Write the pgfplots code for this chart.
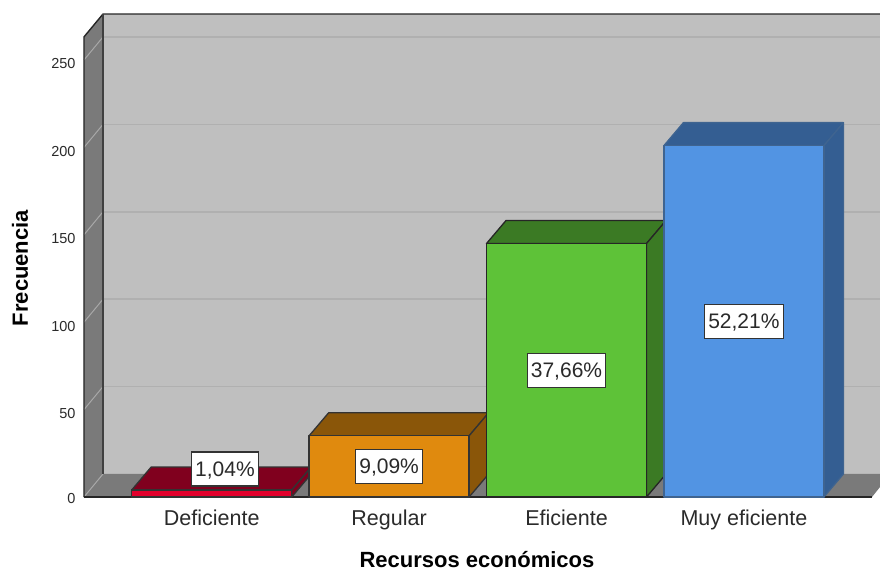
\documentclass[border=0pt]{standalone}
\usepackage{pgfplots}
\pgfplotsset{compat=1.18}
\usepackage{fontspec}
\setmainfont{Liberation Sans}
\definecolor{wallc}{HTML}{BFBFBF}
\definecolor{sidec}{HTML}{7A7A7A}
\definecolor{gridc}{HTML}{B0B0B0}
\definecolor{gridl}{HTML}{A8A8A8}
\definecolor{txt}{HTML}{2A2A2A}
\definecolor{redf}{HTML}{E2002C}
\definecolor{redd}{HTML}{80001E}
\definecolor{orf}{HTML}{E08A0E}
\definecolor{ord}{HTML}{8A5609}
\definecolor{grf}{HTML}{5EC238}
\definecolor{grd}{HTML}{3B7A24}
\definecolor{blf}{HTML}{5294E3}
\definecolor{bld}{HTML}{345E92}
\definecolor{ble}{HTML}{3F6490}
\newcommand{\tdbar}[5]{%
  \pgfmathsetmacro\xl{#1-0.451}%
  \pgfmathsetmacro\xr{#1+0.451}%
  \pgfmathsetmacro\xlb{#1-0.451+0.11}%
  \pgfmathsetmacro\xrb{#1+0.451+0.11}%
  \pgfmathsetmacro\yt{#2+13.16}%
  \pgfmathsetmacro\yb{13.16}%
  \addplot[fill=#4,draw=#5,line width=1.3pt,line join=round,mark=none]
    coordinates {(\xl,#2) (\xlb,\yt) (\xrb,\yt) (\xr,#2)} --cycle;
  \addplot[fill=#4,draw=#5,line width=1.3pt,line join=round,mark=none]
    coordinates {(\xr,0) (\xrb,\yb) (\xrb,\yt) (\xr,#2)} --cycle;
  \addplot[ybar,bar width=0.902,bar shift=0pt,fill=#3,draw=#5,line width=1.3pt,line join=round]
    coordinates {(#1,#2)};
}
\begin{document}
\begin{tikzpicture}[x=1pt,y=1pt]
\useasboundingbox (-84pt,-74pt) rectangle (796pt,497pt);
\begin{axis}[
  scale only axis,width=796pt,height=483pt,
  xmin=-0.7198,xmax=3.7672,ymin=0,ymax=276.3,
  clip=false,
  axis line style={draw=none},
  major tick length=0pt,
  xtick={0,1,2,3},
  xticklabels={Deficiente,Regular,Eficiente,Muy eficiente},
  ytick={50,100,150,200,250},
  extra y ticks={0},
  extra y tick style={yticklabel style={yshift=2.5pt}},
  xticklabel style={font=\fontsize{21.5}{24}\selectfont,text=txt,anchor=center,yshift=-23pt,text height=15pt,text depth=4pt},
  yticklabel style={font=\fontsize{14.5}{16}\selectfont,text=txt,anchor=east,xshift=-5pt,yshift=-4pt},
  /pgf/number format/assume math mode=true,
  every axis x label/.style={at={(axis description cs:0.4937,0)},anchor=center,yshift=-62.5pt,inner sep=0pt,font=\fontsize{22}{24}\selectfont\bfseries},
  every axis y label/.style={at={(axis description cs:-0.0804,0.474)},anchor=center,rotate=90,font=\fontsize{22}{24}\selectfont\bfseries},
  xlabel={Recursos económicos},
  ylabel={Frecuencia},
]
% back wall
\addplot[fill=wallc,draw=none,mark=none] coordinates {(-0.6127,13.16) (-0.6127,276.3) (3.7672,276.3) (3.7672,13.16)} --cycle;
% left wall
\addplot[fill=sidec,draw=none,mark=none] coordinates {(-0.7198,0) (-0.7198,263.2) (-0.6127,276.3) (-0.6127,13.16)} --cycle;
% floor
\addplot[fill=sidec,draw=none,mark=none] coordinates {(-0.7198,0) (-0.6127,13.16) (3.7672,13.16) (3.7672,5.7) (3.7221,0)} --cycle;
% grid back wall
\foreach \v in {50,100,150,200,250}{
  \pgfmathsetmacro\w{\v+13.16}
  \edef\temp{\noexpand\addplot[gridc,line width=1.5pt,mark=none] coordinates {(-0.6127,\w) (3.7672,\w)};
  \noexpand\addplot[gridl,line width=1pt,mark=none] coordinates {(-0.7198,\v) (-0.6127,\w)};}
  \temp
}
\addplot[gridl,line width=1pt,mark=none] coordinates {(-0.7198,0) (-0.6127,13.16)};
% frame
\addplot[black!85,line width=1.4pt,mark=none] coordinates {(-0.7198,0) (-0.7198,263.2) (-0.6127,276.3) (3.7672,276.3)};
\addplot[black!75,line width=1.4pt,mark=none] coordinates {(-0.6127,13.16) (-0.6127,276.3)};
\addplot[black!85,line width=1.6pt,mark=none] coordinates {(-0.7198,0) (3.7221,0)};
% bars
\tdbar{0}{4}{redf}{redd}{black!80}
\tdbar{1}{35}{orf}{ord}{black!80}
\tdbar{2}{145}{grf}{grd}{black!85}
\tdbar{3}{201}{blf}{bld}{ble}
% value labels
\tikzset{vl/.style={fill=white,draw=black!80,line width=1.1pt,font=\fontsize{21}{24}\selectfont,text=txt,inner xsep=3.8pt,inner ysep=0pt,minimum height=34pt,text height=16pt,text depth=2pt}}
\node[vl] at (axis cs:0.075,16) {1,04\%};
\node[vl] at (axis cs:1,17.5) {9,09\%};
\node[vl] at (axis cs:2,72.5) {37,66\%};
\node[vl] at (axis cs:3,100.5) {52,21\%};
\end{axis}
\end{tikzpicture}
\end{document}
